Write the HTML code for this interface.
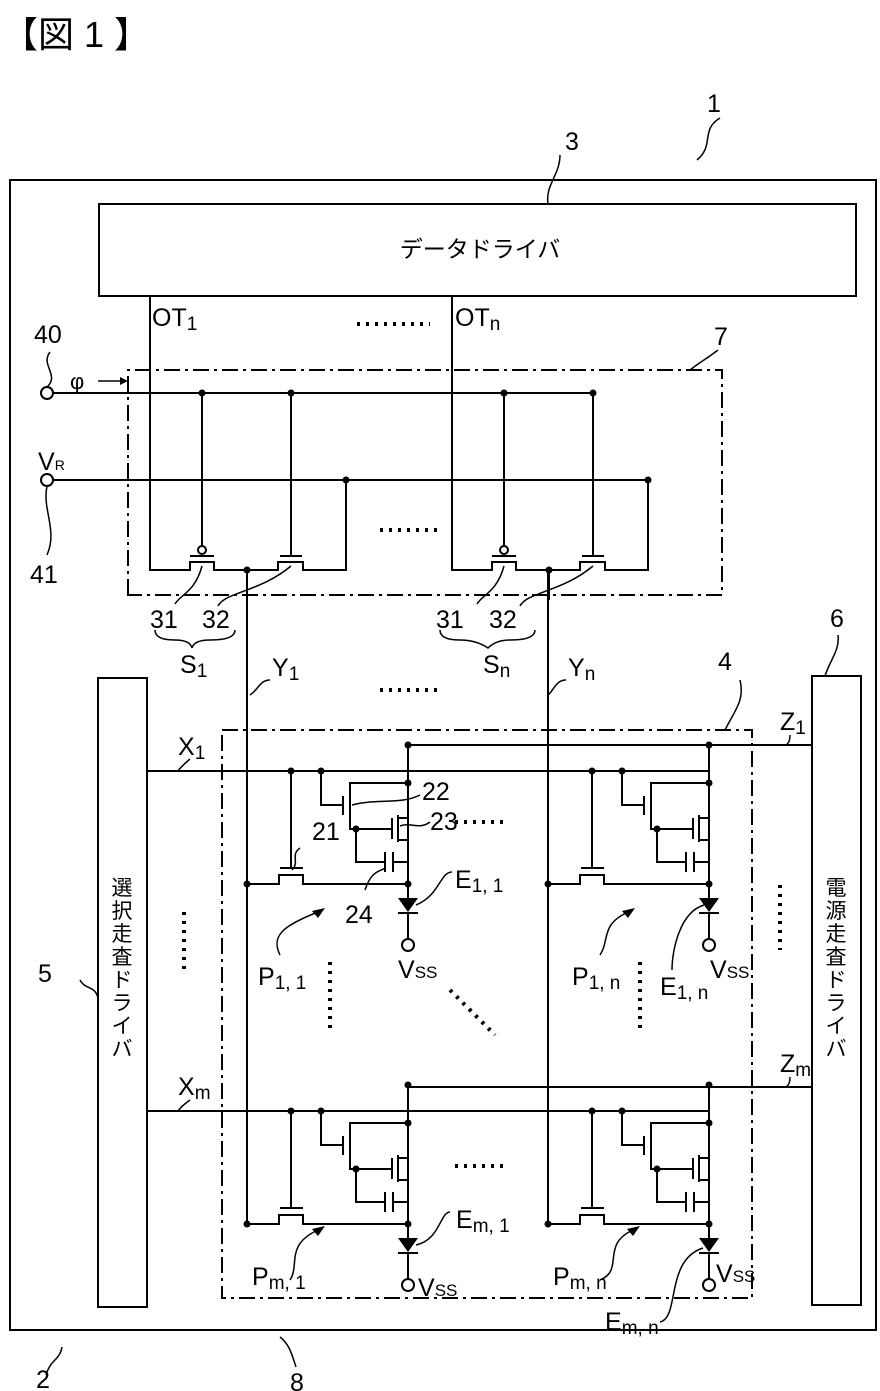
<!DOCTYPE html>
<html><head><meta charset="utf-8"><style>
html,body{margin:0;padding:0;background:#fff;}
svg{display:block;}
text{font-family:"Liberation Sans","Noto Sans CJK JP",sans-serif;fill:#000;}
</style></head><body>
<svg width="880" height="1391" viewBox="0 0 880 1391" xmlns="http://www.w3.org/2000/svg">
<defs>
<g id="pix" fill="none" stroke="#000" stroke-width="2">
  <path d="M44,0 V97 M33,97 H56"/>
  <path d="M0,113 H32 V104 H56 V113 H161"/>
  <path d="M161,-26 V127"/>
  <path d="M74,0 V34 H96 M96,25 V44 M103,21 V48 M161,12 H103 V21 M103,48 V58 H145 M145,47 V68 M151,44 V71 M151,47 H161 M151,69 H161"/>
  <path d="M109,58 V91 H138 M138,81 V101 M146,81 V101 M146,91 H161"/>
  <polygon points="151,127 171,127 161,141" fill="#000" stroke="none"/>
  <path d="M151,142 H171 M161,142 V168"/>
  <circle cx="161" cy="174" r="6" fill="#fff"/>
  <g fill="#000" stroke="none">
    <circle cx="44" cy="0" r="3.5"/><circle cx="74" cy="0" r="3.5"/>
    <circle cx="161" cy="12" r="3.5"/><circle cx="161" cy="113" r="3.5"/>
    <circle cx="109" cy="58" r="3.5"/><circle cx="0" cy="113" r="3.5"/>
    <circle cx="161" cy="-26" r="3.5"/>
  </g>
</g>
<g id="sw" fill="none" stroke="#000" stroke-width="2">
  <path d="M150,296 V570 H190 V562 H214 V570 H278 V562 H303 V570 H346 V480"/>
  <path d="M190,556 H214 M280,556 H302 M291,393 V556 M202,393 V546 M247,570 V600"/>
  <circle cx="202" cy="550" r="4" fill="#fff"/>
  <g fill="#000" stroke="none"><circle cx="202" cy="393" r="3.5"/><circle cx="291" cy="393" r="3.5"/><circle cx="346" cy="480" r="3.5"/><circle cx="247" cy="570" r="3.5"/></g>
  <path d="M175,604 C180,595 195,592 202,566 M218,606 C225,592 260,592 291,566" stroke-width="1.5"/>
</g>
</defs>

<text x="2" y="47" font-size="36">【図 1 】</text>

<g fill="none" stroke="#000" stroke-width="2">
  <rect x="10" y="180" width="866" height="1150"/>
  <rect x="99" y="204" width="757" height="92"/>
  <rect x="98" y="678" width="49" height="629"/>
  <rect x="812" y="676" width="49" height="629"/>
  <path d="M128,595 V370 H722 V595 Z M222,730 H752 V1298 H222 Z" stroke-dasharray="16 5 3 5"/>
  <path d="M53,393 H593 M53,480 H648"/>
  <circle cx="47" cy="393" r="6" fill="#fff"/><circle cx="47" cy="480" r="6" fill="#fff"/>
  <path d="M247,570 V884 M548,570 V884 M247,884 V1223 M548,884 V1223"/>
  <path d="M147,771 H709 M408,745 H812 M147,1111 H709 M408,1087 H812"/>
  <path d="M98,381 H120" stroke-width="1.5"/>
</g>
<g fill="none" stroke="#000" stroke-width="1.5">
  <path d="M720,118 C700,130 715,145 697,160 M560,155 C560,175 545,185 548,204 M718,350 C705,360 700,362 690,370 M50,352 C40,365 60,375 47,387 M47,486 C42,510 58,530 47,555"/>
  <path d="M80,980 C85,990 95,985 98,998 M46,1375 C50,1360 60,1360 62,1347 M296,1367 C292,1355 290,1345 280,1337"/>
  <path d="M270,680 C260,680 258,690 250,695 M566,680 C556,680 554,690 548,695 M740,680 C745,700 735,710 725,730 M838,635 C840,650 830,660 825,676"/>
  <path d="M790,735 C790,745 785,745 785,745 M790,1077 C790,1087 785,1087 785,1087 M190,759 C183,765 180,768 178,771 M190,1100 C183,1105 180,1108 178,1111"/>
  <path d="M155,630 Q155,640 175,640 Q190,640 192,648 Q194,640 210,640 Q235,640 235,630 M440,630 Q440,640 460,640 Q476,640 488,648 Q496,640 510,640 Q535,640 535,630"/>
  <path d="M420,795 C400,805 380,798 352,805 M430,822 C420,830 410,822 400,826 M300,848 C290,855 300,862 292,870 M365,890 C370,875 375,872 386,868 M452,872 C440,872 440,895 416,905"/>
  <path d="M280,955 C270,935 285,925 318,912 M600,955 C610,940 600,925 628,912 M672,970 C672,950 680,912 704,905 M450,1212 C440,1212 440,1240 416,1245 M290,1280 C300,1265 285,1245 318,1230 M600,1280 C625,1270 600,1245 633,1230 M660,1322 C680,1318 665,1260 703,1248"/>
</g>
<g fill="#000"><polygon points="120,377 128,381 120,385"/>
<polygon points="325,908 312,911 318,918"/><polygon points="635,908 622,911 628,918"/><polygon points="325,1226 312,1229 318,1236"/><polygon points="640,1226 627,1229 633,1236"/></g>

<use href="#sw"/>
<use href="#sw" transform="translate(302,0)"/>
<path d="M648,570 V480" stroke="#000" stroke-width="2" fill="none"/>

<use href="#pix" transform="translate(247,771)"/>
<use href="#pix" transform="translate(548,771)"/>
<use href="#pix" transform="translate(247,1111)"/>
<use href="#pix" transform="translate(548,1111)"/>

<g font-size="25">
<text x="707" y="112">1</text>
<text x="565" y="150">3</text>
<text x="714" y="345">7</text>
<text x="34" y="343">40</text>
<text x="30" y="583">41</text>
<text x="38" y="470">V<tspan font-size="14">R</tspan></text>
<text x="70" y="389" font-size="22">φ</text>
<text x="152" y="326">OT<tspan font-size="19" dy="4">1</tspan></text>
<text x="455" y="326">OT<tspan font-size="19" dy="4">n</tspan></text>
<text x="150" y="628">31</text><text x="202" y="628">32</text>
<text x="436" y="628">31</text><text x="489" y="628">32</text>
<text x="180" y="673">S<tspan font-size="19" dy="4">1</tspan></text>
<text x="483" y="673">S<tspan font-size="19" dy="4">n</tspan></text>
<text x="272" y="676">Y<tspan font-size="19" dy="4">1</tspan></text>
<text x="568" y="676">Y<tspan font-size="19" dy="4">n</tspan></text>
<text x="718" y="670">4</text>
<text x="830" y="627">6</text>
<text x="780" y="730">Z<tspan font-size="19" dy="4">1</tspan></text>
<text x="780" y="1072">Z<tspan font-size="19" dy="4">m</tspan></text>
<text x="178" y="755">X<tspan font-size="19" dy="4">1</tspan></text>
<text x="178" y="1095">X<tspan font-size="19" dy="4">m</tspan></text>
<text x="38" y="982">5</text>
<text x="422" y="800">22</text>
<text x="430" y="830">23</text>
<text x="312" y="840">21</text>
<text x="345" y="923">24</text>
<text x="455" y="888">E<tspan font-size="19" dy="4">1, 1</tspan></text>
<text x="258" y="985">P<tspan font-size="19" dy="4">1, 1</tspan></text>
<text x="572" y="985">P<tspan font-size="19" dy="4">1, n</tspan></text>
<text x="660" y="995">E<tspan font-size="19" dy="4">1, n</tspan></text>
<text x="398" y="978">V<tspan font-size="17">SS</tspan></text>
<text x="710" y="978">V<tspan font-size="17">SS</tspan></text>
<text x="456" y="1228">E<tspan font-size="19" dy="4">m, 1</tspan></text>
<text x="252" y="1285">P<tspan font-size="19" dy="4">m, 1</tspan></text>
<text x="553" y="1285">P<tspan font-size="19" dy="4">m, n</tspan></text>
<text x="605" y="1330">E<tspan font-size="19" dy="4">m, n</tspan></text>
<text x="418" y="1296">V<tspan font-size="17">SS</tspan></text>
<text x="716" y="1282">V<tspan font-size="17">SS</tspan></text>
<text x="36" y="1388">2</text>
<text x="290" y="1391">8</text>
</g>
<text x="480" y="257" font-size="23" text-anchor="middle">データドライバ</text>
<text font-size="21" text-anchor="middle"><tspan x="122" y="895">選</tspan><tspan x="122" y="918">択</tspan><tspan x="122" y="941">走</tspan><tspan x="122" y="964">査</tspan><tspan x="122" y="987">ド</tspan><tspan x="122" y="1010">ラ</tspan><tspan x="122" y="1033">イ</tspan><tspan x="122" y="1056">バ</tspan></text>
<text font-size="21" text-anchor="middle"><tspan x="836" y="895">電</tspan><tspan x="836" y="918">源</tspan><tspan x="836" y="941">走</tspan><tspan x="836" y="964">査</tspan><tspan x="836" y="987">ド</tspan><tspan x="836" y="1010">ラ</tspan><tspan x="836" y="1033">イ</tspan><tspan x="836" y="1056">バ</tspan></text>
<g stroke="#000" stroke-width="4" stroke-dasharray="3 6" fill="none">
  <path d="M357,324 H430 M380,530 H440 M380,690 H440 M455,822 H503 M455,1166 H505"/>
  <path d="M184,912 V975 M330,962 V1030 M640,962 V1030 M780,885 V950"/>
  <path d="M450,990 L495,1035"/>
</g>
</svg>
</body></html>
